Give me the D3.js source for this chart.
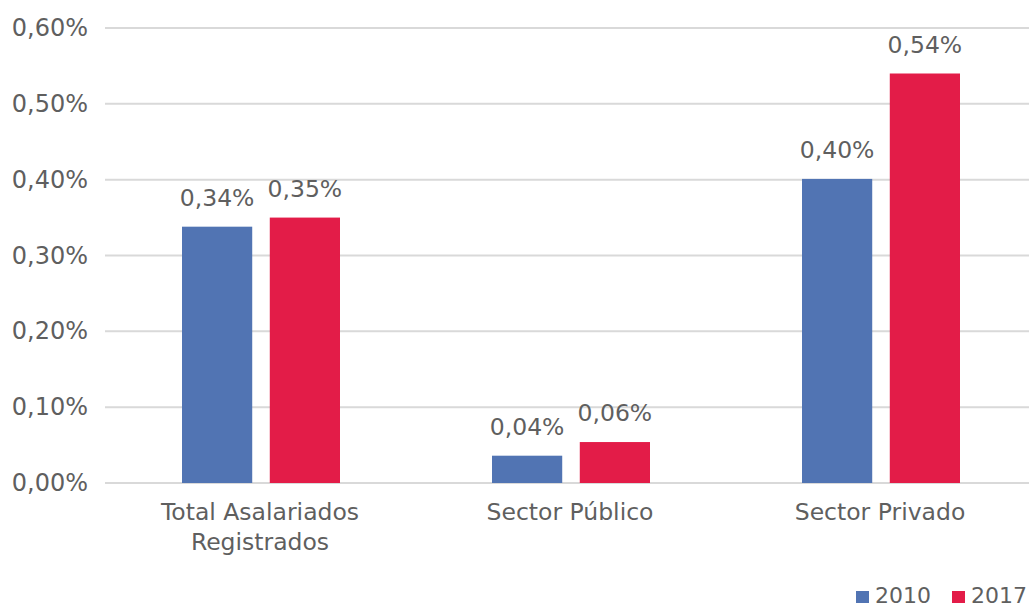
<!DOCTYPE html>
<html><head><meta charset="utf-8">
<script src="https://cdn.jsdelivr.net/npm/d3@7"></script>
<style>body{margin:0;background:#fff}svg{display:block}text{font-family:"DejaVu Sans",sans-serif;fill:#5f5f5f}</style>
</head><body><svg id="c" width="1029" height="608"></svg>
<script>
const categories = [["Total Asalariados","Registrados"],["Sector Público"],["Sector Privado"]];
const series = ["2010","2017"];
const values2010 = [0.338, 0.036, 0.401];
const values2017 = [0.350, 0.054, 0.540];
const labels2010 = ["0,34%","0,04%","0,40%"];
const labels2017 = ["0,35%","0,06%","0,54%"];
const yTicks = [0,0.1,0.2,0.3,0.4,0.5,0.6];
const yTickLabels = ["0,00%","0,10%","0,20%","0,30%","0,40%","0,50%","0,60%"];
const colors = ["#5174B3","#E31C48"];

const svg = d3.select("#c");
const fs = 23.5;
const y = d3.scaleLinear().domain([0,0.6]).range([483,28]);
const x0 = d3.scaleBand().domain(d3.range(categories.length)).range([105,1035]).paddingInner(0).paddingOuter(0);
const x1 = d3.scaleBand().domain(series).range([77,235]).paddingInner(0.2);

// grid
svg.append("g").selectAll("line").data(yTicks).join("line")
  .attr("x1",105).attr("x2",1029).attr("y1",d=>y(d)).attr("y2",d=>y(d))
  .attr("stroke","#d9d9d9").attr("stroke-width",2);
// y labels
svg.append("g").selectAll("text").data(yTicks).join("text")
  .attr("x",88).attr("y",d=>y(d)+8).attr("text-anchor","end").attr("font-size",24)
  .text((d,i)=>yTickLabels[i]);

const data = [];
categories.forEach((c,i)=>{
  data.push({i, s:"2010", v:values2010[i], l:labels2010[i], c:colors[0]});
  data.push({i, s:"2017", v:values2017[i], l:labels2017[i], c:colors[1]});
});
svg.append("g").selectAll("rect").data(data).join("rect")
  .attr("x",d=>x0(d.i)+x1(d.s)).attr("width",x1.bandwidth())
  .attr("y",d=>y(d.v)).attr("height",d=>y(0)-y(d.v)).attr("fill",d=>d.c);
svg.append("g").selectAll("text").data(data).join("text")
  .attr("x",d=>x0(d.i)+x1(d.s)+x1.bandwidth()/2).attr("y",d=>y(d.v)-21)
  .attr("text-anchor","middle").attr("font-size",fs).attr("fill","#454545").text(d=>d.l);

// x labels
const xl = svg.append("g").selectAll("text").data(categories).join("text")
  .attr("text-anchor","middle").attr("font-size",fs)
  .attr("transform",(d,i)=>`translate(${x0(i)+x0.bandwidth()/2},520)`);
xl.selectAll("tspan").data(d=>d).join("tspan").attr("x",0).attr("dy",(d,j)=>j?30:0).text(d=>d);

// legend
const lg = svg.append("g");
const lx = [856, 952];
series.forEach((s,i)=>{
  lg.append("rect").attr("x",lx[i]).attr("y",591).attr("width",13).attr("height",12).attr("fill",colors[i]);
  lg.append("text").attr("x",lx[i]+19).attr("y",603).attr("font-size",22).text(s);
});
</script></body></html>
